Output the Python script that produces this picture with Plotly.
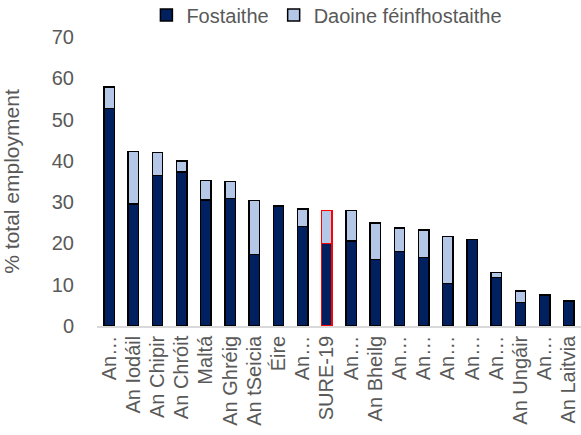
# Stacked bar chart: employees vs self-employed, % of total employment

import plotly.graph_objects as go

# ----------------------------------------------------------------------------------------------------------------------
# Data
# ----------------------------------------------------------------------------------------------------------------------
tick_labels = ["An…", "An Iodáil", "An Chipir", "An Chróit", "Maltá", "An Ghréig", "An tSeicia", "Éire",
               "An…", "SURE-19", "An…", "An Bheilg", "An…", "An…", "An…", "An…", "An…", "An Ungáir",
               "An…", "An Laitvia"]
fostaithe = [52.7, 29.6, 36.5, 37.3, 30.5, 30.9, 17.3, 29.1, 24.1, 20.0, 20.6, 16.1, 18.1, 16.6, 10.3, 20.9,
             11.8, 5.7, 7.5, 6.0]
total = [57.9, 42.3, 42.0, 40.0, 35.2, 35.0, 30.4, 29.1, 28.3, 28.0, 28.0, 25.0, 23.7, 23.3, 21.7, 20.9,
         13.0, 8.5, 7.5, 6.0]
feinfhostaithe = [round(t - f, 1) for t, f in zip(total, fostaithe)]

# ----------------------------------------------------------------------------------------------------------------------
# Plot
# ----------------------------------------------------------------------------------------------------------------------
x_pos = list(range(len(tick_labels)))
outline = ["#FF0000" if lab == "SURE-19" else "#000000" for lab in tick_labels]
grey = "#595959"

fig = go.Figure()
fig.add_trace(go.Bar(x=x_pos, y=fostaithe, name="Fostaithe",
                     marker=dict(color="#002060", line=dict(color=outline, width=1.5))))
fig.add_trace(go.Bar(x=x_pos, y=feinfhostaithe, name="Daoine féinfhostaithe",
                     marker=dict(color="#B4C7E7", line=dict(color=outline, width=1.5))))

fig.update_layout(
    barmode="stack",
    bargap=0.57,
    width=581, height=435,
    margin=dict(l=97, r=0, t=37, b=109, autoexpand=False),
    plot_bgcolor="white", paper_bgcolor="white",
    font=dict(family="Liberation Sans, Arial", size=20, color=grey),
    legend=dict(orientation="h", x=0.475, xanchor="center", y=1.076, yanchor="middle",
                font=dict(size=20, color=grey),
                itemwidth=30, traceorder="normal", tracegroupgap=0),
)

fig.update_xaxes(range=[-0.5, len(tick_labels) - 0.5], tickmode="array", tickvals=x_pos, ticktext=tick_labels,
                 tickangle=-90, tickfont=dict(size=20, color=grey), automargin=False,
                 showline=True, linecolor="#D9D9D9", linewidth=1.5, showgrid=False, zeroline=False)
fig.update_yaxes(range=[0, 70], dtick=10, tickfont=dict(size=20, color=grey), automargin=False,
                 showgrid=False, zeroline=False, showline=False, ticks="", ticklabelstandoff=22,
                 title=dict(text="% total employment", font=dict(size=21, color=grey), standoff=30))

fig.write_html("out.html", config={"displayModeBar": False},
               post_script="document.body.style.margin='0';")
